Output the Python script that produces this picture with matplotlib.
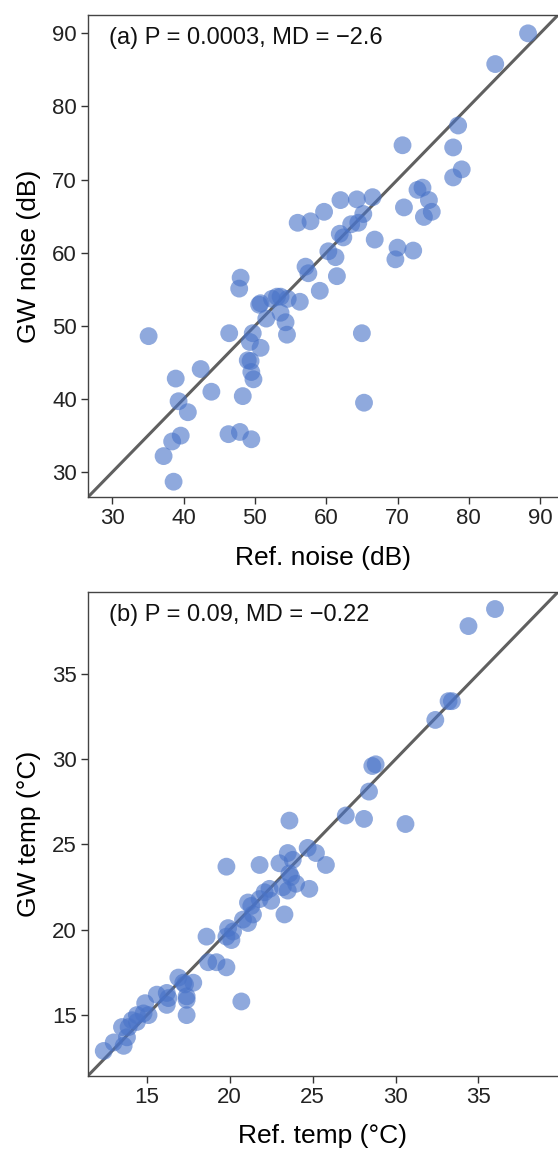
import matplotlib
matplotlib.use("Agg")
import matplotlib.pyplot as plt

# (a) noise, dB
noise_ref = [88.3, 83.7, 78.5, 70.7, 77.8, 79.0, 77.8, 72.8, 73.5, 74.4,
             70.9, 73.7, 74.8, 66.5, 64.3, 62.0, 59.7, 57.8, 56.0, 65.2,
             63.5, 64.5, 61.9, 62.4, 66.8, 60.3, 61.3, 70.0, 72.2, 69.7,
             57.1, 57.5, 61.5, 48.0, 47.8, 59.1, 56.3, 53.1, 52.4, 53.6,
             54.6, 50.8, 50.6, 51.6, 53.6, 54.3, 54.5, 46.4, 49.7, 49.3,
             50.8, 35.1, 65.0, 65.3, 49.0, 49.4, 49.5, 49.8, 42.4, 38.9,
             43.9, 48.3, 39.3, 40.6, 39.6, 38.4, 46.3, 47.9, 49.5, 37.2,
             38.6]
noise_gw = [90.0, 85.8, 77.4, 74.7, 74.4, 71.4, 70.3, 68.6, 68.9, 67.2,
            66.2, 64.9, 65.6, 67.6, 67.3, 67.2, 65.6, 64.3, 64.1, 65.3,
            63.9, 64.1, 62.6, 62.1, 61.8, 60.2, 59.4, 60.7, 60.3, 59.1,
            58.1, 57.2, 56.8, 56.6, 55.1, 54.8, 53.3, 54.0, 53.7, 54.0,
            53.7, 53.1, 52.9, 51.0, 51.8, 50.5, 48.8, 49.0, 49.0, 47.8,
            47.0, 48.6, 49.0, 39.5, 45.3, 45.2, 43.7, 42.7, 44.1, 42.8,
            41.0, 40.4, 39.7, 38.2, 35.0, 34.2, 35.2, 35.5, 34.5, 32.2,
            28.7]

# (b) temperature, degC
temp_ref = [36.0, 34.4, 33.2, 33.4, 32.4, 28.6, 28.8, 28.4, 27.0, 28.1,
            23.6, 30.6, 24.7, 25.2, 23.5, 23.8, 23.0, 21.8, 19.8, 25.8,
            23.6, 23.7, 24.0, 23.2, 23.5, 24.8, 22.4, 22.1, 22.5, 21.8,
            21.1, 21.3, 23.3, 21.4, 20.8, 21.1, 19.9, 20.2, 19.8, 20.1,
            18.6, 18.7, 19.2, 19.8, 16.9, 17.2, 17.8, 17.3, 17.4, 17.4,
            20.7, 17.4, 15.6, 16.2, 16.3, 16.2, 14.9, 15.1, 14.8, 14.4,
            14.4, 14.1, 13.9, 13.5, 13.8, 13.6, 13.0, 12.4]
temp_gw = [38.8, 37.8, 33.4, 33.4, 32.3, 29.6, 29.7, 28.1, 26.7, 26.5,
           26.4, 26.2, 24.8, 24.5, 24.5, 24.1, 23.9, 23.8, 23.7, 23.8,
           23.3, 23.1, 22.7, 22.5, 22.3, 22.4, 22.4, 22.2, 21.7, 21.8,
           21.6, 21.4, 20.9, 20.9, 20.6, 20.4, 20.1, 19.9, 19.6, 19.4,
           19.6, 18.1, 18.1, 17.8, 17.2, 16.9, 16.9, 16.8, 16.1, 15.9,
           15.8, 15.0, 16.2, 16.3, 16.0, 15.6, 15.7, 15.0, 15.1, 15.0,
           14.6, 14.7, 14.3, 14.3, 13.7, 13.2, 13.4, 12.9]

plt.rcParams['font.family'] = ['Liberation Sans', 'DejaVu Sans']

DOT = '#4a74c8'
LINE = '#606060'

fig = plt.figure(figsize=(5.58, 11.49), dpi=100)
ax_a = fig.add_axes([0.1577, 0.5674, 0.8423, 0.4195])
ax_b = fig.add_axes([0.1577, 0.0638, 0.8423, 0.4210])


def panel(ax, x, y, lims, ticks, label, xlabel, ylabel):
    ax.plot(lims, lims, color=LINE, lw=2.2, zorder=1)
    ax.scatter(x, y, s=165, color=DOT, alpha=0.62, edgecolors='none', zorder=2)
    ax.set_xlim(lims)
    ax.set_ylim(lims)
    ax.set_xticks(ticks)
    ax.set_yticks(ticks)
    ax.tick_params(labelsize=16, length=5, width=1, color='#333333',
                   labelcolor='#222222', direction='out', top=False, right=False,
                   pad=3)
    for s in ['left', 'bottom', 'top']:
        ax.spines[s].set_color('#444444')
        ax.spines[s].set_linewidth(1.0)
    ax.spines['right'].set_visible(False)
    ax.set_xlabel(xlabel, fontsize=19, labelpad=12)
    ax.set_ylabel(ylabel, fontsize=19, labelpad=8)
    ax.text(0.045, 0.975, label, transform=ax.transAxes, fontsize=17,
            va='top', ha='left', color='#111111')


panel(ax_a, noise_ref, noise_gw, (26.6, 92.5), [30, 40, 50, 60, 70, 80, 90],
      '(a) P = 0.0003, MD = \u22122.6', 'Ref. noise (dB)', 'GW noise (dB)')
panel(ax_b, temp_ref, temp_gw, (11.45, 39.8), [15, 20, 25, 30, 35],
      '(b) P = 0.09, MD = \u22120.22', 'Ref. temp (\u00b0C)', 'GW temp (\u00b0C)')

fig.savefig('out.png', dpi=100)
